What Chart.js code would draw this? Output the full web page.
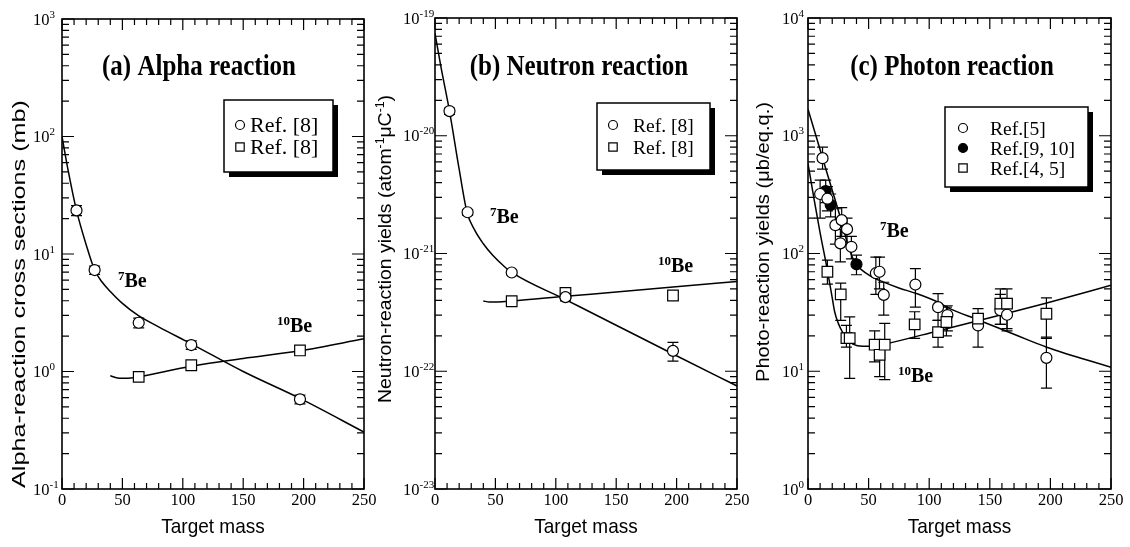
<!DOCTYPE html>
<html>
<head>
<meta charset="utf-8">
<script src="https://cdn.jsdelivr.net/npm/chart.js@4.4.1/dist/chart.umd.min.js"></script>
<style>
  html, body { margin: 0; padding: 0; background: #fff; }
  #wrap { position: relative; width: 1130px; height: 547px; overflow: hidden; }
  #wrap canvas { position: absolute; left: 0; top: 0; }
</style>
</head>
<body>
<div id="wrap">
  <canvas id="alphaChart" width="1130" height="547"></canvas>
  <canvas id="neutronChart" width="1130" height="547"></canvas>
  <canvas id="photonChart" width="1130" height="547"></canvas>
</div>
<script>
// ---- shared x axis ----
const massTicks = [0, 50, 100, 150, 200, 250];

// ---- (a) alpha reaction ----
const alphaDecades = [-1, 0, 1, 2, 3];
const alphaBe7Mass = [12, 27, 63.5, 107, 197];
const alphaBe7Val = [23.5, 7.3, 2.6, 1.68, 0.58];
const alphaBe7Err = [2.3, 0.6, 0.25, 0.14, 0.05];
const alphaBe10Mass = [63.5, 107, 197];
const alphaBe10Val = [0.9, 1.13, 1.51];
const alphaFit7Mass = [0, 5, 12, 20, 27, 33, 40, 50, 63, 80, 107, 150, 197, 250];
const alphaFit7Val = [100, 52, 23.5, 12, 7.3, 5.8, 4.8, 3.8, 3.0, 2.4, 1.72, 1.0, 0.59, 0.305];
const alphaFit10Mass = [40, 45, 50, 57, 63.5, 107, 150, 197, 250];
const alphaFit10Val = [0.92, 0.885, 0.875, 0.88, 0.9, 1.11, 1.29, 1.5, 1.9];

// ---- (b) neutron reaction ----
const neutronDecades = [-23, -22, -21, -20, -19];
const neutronBe7Mass = [12, 27, 63.5, 108, 197];
const neutronBe7Val = [1.62e-20, 2.24e-21, 6.9e-22, 4.26e-22, 1.49e-22];
const neutronBe7Err = [0.1e-20, 0.12e-21, 0.3e-22, 0.3e-22, 0.27e-22];
const neutronBe10Mass = [63.5, 108, 197];
const neutronBe10Val = [3.93e-22, 4.62e-22, 4.4e-22];
const neutronBe10Err = [0.1e-22, 0.25e-22, 0.3e-22];
const neutronFit7Mass = [0, 5, 12, 20, 26.5, 33, 40, 48, 56.5, 63.5, 108, 150, 197, 250];
const neutronFit7Val = [7.4e-20, 3.8e-20, 1.62e-20, 5.2e-21, 2.24e-21, 1.57e-21, 1.21e-21, 9.6e-22, 7.9e-22, 6.9e-22, 4.06e-22, 2.46e-22, 1.4e-22, 7.5e-23];
const neutronFit10Mass = [40, 45, 52, 63.5, 108, 150, 197, 250];
const neutronFit10Val = [3.95e-22, 3.88e-22, 3.88e-22, 3.95e-22, 4.33e-22, 4.71e-22, 5.19e-22, 5.78e-22];

// ---- (c) photon reaction ----
const photonDecades = [0, 1, 2, 3, 4];
const photonRef5Mass = [10, 12, 16, 22.6, 26.7, 27.8, 32.2, 35.8, 56, 59, 62.5, 88.6, 107.3, 115, 140.3, 158.7, 164.2, 196.7];
const photonRef5Val = [320, 645, 292, 174, 122, 192, 161, 114, 68, 70, 44.5, 54.5, 35, 30, 24.5, 33, 30.2, 13];
const photonRef5Lo = [200, 520, 230, 120, 85, 140, 120, 90, 45, 50, 30, 35, 27, 22, 16, 25, 22, 7.2];
const photonRef5Hi = [420, 800, 370, 240, 160, 245, 200, 140, 93, 93, 57, 74.5, 45.7, 36, 30, 45, 40, 19.5];
const photonRef910Mass = [14.6, 18.7, 40];
const photonRef910Val = [339, 259, 81];
const photonRef910Lo = [270, 205, 66];
const photonRef910Hi = [420, 320, 97];
const photonRef45Mass = [16, 27, 31.7, 34.4, 55, 59.1, 63.3, 88, 107.3, 114.2, 140.3, 158.7, 164.2, 196.7];
const photonRef45Val = [70, 45, 19.1, 19.1, 16.8, 13.8, 16.8, 25, 21.5, 26.2, 28, 37.5, 37.5, 30.8];
const photonRef45Lo = [55, 27, 16, 8.7, 12, 9, 8.5, 19, 16, 20, 24, 25, 23, 19];
const photonRef45Hi = [88, 56, 24.5, 29, 22, 17, 25.5, 32, 27, 35, 34, 50, 50, 42];
const photonFit7Mass = [0, 5, 10, 15, 20, 27, 33, 38.5, 44, 51, 62, 75, 89.5, 107, 117, 140, 172, 197, 250];
const photonFit7Val = [1680, 1130, 760, 510, 345, 198, 118, 84, 73, 65, 57.4, 51, 45.7, 38.7, 34, 27.4, 20.2, 16, 10.8];
const photonFit10Mass = [0, 5, 10, 16, 20, 22, 25, 29, 33, 37, 45, 55, 63, 107, 150, 197, 250];
const photonFit10Val = [580, 290, 150, 72, 42, 32, 25.5, 21, 18.3, 17, 16.3, 16.5, 17, 22, 28.5, 38, 53.7];

const SERIF = '"Liberation Serif", "Times New Roman", serif';
const SANS = '"Liberation Sans", Arial, sans-serif';

// draw a row of text runs, some of them superscript
function drawRuns(ctx, runs, x, y, o) {
  const family = o.family || SERIF;
  const weight = o.weight || "normal";
  const supSize = o.supSize || o.size * 0.65;
  const supRaise = o.supRaise != null ? o.supRaise : o.size * 0.4;
  const fontFor = (r) => weight + " " + (r.sup ? supSize : o.size) + "px " + family;
  ctx.save();
  const widths = runs.map((r) => {
    ctx.font = fontFor(r);
    return ctx.measureText(r.t).width;
  });
  const total = widths.reduce((s, w) => s + w, 0);
  ctx.translate(x, y);
  if (o.rotate) ctx.rotate(o.rotate);
  const sx = o.fit ? o.fit / total : o.sx || 1;
  ctx.scale(sx, o.sy || 1);
  let cx = o.align === "center" ? -total / 2 : o.align === "right" ? -total : 0;
  ctx.fillStyle = "#000";
  ctx.textAlign = "left";
  ctx.textBaseline = "alphabetic";
  runs.forEach((r, i) => {
    ctx.font = fontFor(r);
    ctx.fillText(r.t, cx, r.sup ? -supRaise : 0);
    cx += widths[i];
  });
  ctx.restore();
}

function drawMarker(ctx, kind, x, y, size) {
  ctx.beginPath();
  if (kind === "square") {
    ctx.rect(x - size, y - size, size * 2, size * 2);
  } else {
    ctx.arc(x, y, size, 0, Math.PI * 2);
  }
  ctx.fillStyle = kind === "disc" ? "#000" : "#fff";
  ctx.fill();
  ctx.stroke();
}

// vertical error bars with caps, drawn under the markers
const errorBarPlugin = {
  id: "errorBars",
  beforeDatasetsDraw(chart) {
    const { ctx, scales } = chart;
    ctx.save();
    ctx.strokeStyle = "#000";
    ctx.lineWidth = 1.2;
    chart.data.datasets.forEach((ds, i) => {
      if (!ds.errLo) return;
      const meta = chart.getDatasetMeta(i);
      meta.data.forEach((pt, j) => {
        const yLo = scales.y.getPixelForValue(ds.errLo[j]);
        const yHi = scales.y.getPixelForValue(ds.errHi[j]);
        ctx.beginPath();
        ctx.moveTo(pt.x, yLo);
        ctx.lineTo(pt.x, yHi);
        ctx.moveTo(pt.x - 5.5, yLo);
        ctx.lineTo(pt.x + 5.5, yLo);
        ctx.moveTo(pt.x - 5.5, yHi);
        ctx.lineTo(pt.x + 5.5, yHi);
        ctx.stroke();
      });
    });
    ctx.restore();
  },
};

// box, inward ticks, tick labels, titles, notes and legend
const framePlugin = {
  id: "frame",
  afterDraw(chart, args, opts) {
    const { ctx, chartArea: a, scales } = chart;
    const sx = scales.x;
    const sy = scales.y;
    ctx.save();
    ctx.strokeStyle = "#000";
    ctx.lineWidth = 1.2;
    ctx.beginPath();
    for (let v = sx.min; v <= sx.max; v += 10) {
      const px = sx.getPixelForValue(v);
      const len = massTicks.includes(v) ? 11 : 6;
      ctx.moveTo(px, a.bottom);
      ctx.lineTo(px, a.bottom - len);
      ctx.moveTo(px, a.top);
      ctx.lineTo(px, a.top + len);
    }
    opts.decades.forEach((e, i) => {
      for (let m = 1; m <= 9; m++) {
        if (m > 1 && i === opts.decades.length - 1) break;
        const py = sy.getPixelForValue(m * Math.pow(10, e));
        const len = m === 1 ? 12 : 7;
        ctx.moveTo(a.left, py);
        ctx.lineTo(a.left + len, py);
        ctx.moveTo(a.right, py);
        ctx.lineTo(a.right - len, py);
      }
    });
    ctx.stroke();
    ctx.lineWidth = 1.6;
    ctx.strokeRect(a.left, a.top, a.right - a.left, a.bottom - a.top);

    // x tick labels
    massTicks.forEach((v) => {
      drawRuns(ctx, [{ t: String(v) }], sx.getPixelForValue(v), a.bottom + 16, { size: 16.5, align: "center" });
    });
    // y tick labels 10^n
    opts.decades.forEach((e) => {
      const py = sy.getPixelForValue(Math.pow(10, e));
      drawRuns(ctx, [{ t: "10" }, { t: String(e), sup: true }], opts.yLabelX, py + 5.5, {
        size: 16.5, supSize: 11, supRaise: 7,
      });
    });
    // axis titles
    drawRuns(ctx, [{ t: "Target mass" }], (a.left + a.right) / 2, 533, { size: 19, family: SANS, align: "center", sy: 1.1 });
    const yt = opts.yTitle;
    drawRuns(ctx, yt.runs, yt.x, yt.cy, {
      size: 19, family: SANS, align: "center", rotate: -Math.PI / 2, fit: yt.len, supSize: 12, supRaise: 7,
    });
    // panel title
    drawRuns(ctx, [{ t: opts.title.text }], opts.title.x, opts.title.y, {
      size: 25, weight: "bold", align: "center", sy: 1.15,
    });
    // isotope notes
    opts.notes.forEach((n) => {
      drawRuns(ctx, n.runs, n.x, n.y, { size: 20, weight: "bold", supSize: 13, supRaise: 7 });
    });
    // legend with drop shadow
    const lg = opts.legend;
    ctx.fillStyle = "#000";
    ctx.fillRect(lg.x + 5, lg.y + 5, lg.w, lg.h);
    ctx.fillStyle = "#fff";
    ctx.fillRect(lg.x, lg.y, lg.w, lg.h);
    ctx.lineWidth = 1.5;
    ctx.strokeRect(lg.x, lg.y, lg.w, lg.h);
    ctx.lineWidth = 1.2;
    lg.entries.forEach((en, i) => {
      drawMarker(ctx, en[0], lg.markerX, lg.rows[i], en[0] === "square" ? 4.2 : 4.5);
      drawRuns(ctx, [{ t: en[1] }], lg.textX, lg.rows[i] + 7, { size: lg.size });
    });
    ctx.restore();
  },
};

const pts = (xs, ys) => xs.map((x, i) => ({ x, y: ys[i] }));
const minus = (vs, es) => vs.map((v, i) => v - es[i]);
const plus = (vs, es) => vs.map((v, i) => v + es[i]);

function markerSet(xs, ys, kind, lo, hi) {
  return {
    data: pts(xs, ys),
    showLine: false,
    pointStyle: kind === "square" ? "rect" : "circle",
    pointRadius: kind === "square" ? 7.5 : 5.5,
    pointBackgroundColor: kind === "disc" ? "#000" : "#fff",
    pointBorderColor: "#000",
    pointBorderWidth: 1.2,
    errLo: lo,
    errHi: hi,
    order: 1,
  };
}

function fitSet(xs, ys) {
  return {
    data: pts(xs, ys),
    showLine: true,
    pointRadius: 0,
    borderColor: "#000",
    borderWidth: 1.5,
    cubicInterpolationMode: "monotone",
    fill: false,
    order: 2,
  };
}

function makeChart(id, area, yMin, yMax, datasets, frame) {
  return new Chart(document.getElementById(id), {
    type: "scatter",
    data: { datasets },
    options: {
      responsive: false,
      animation: false,
      devicePixelRatio: 1,
      events: [],
      layout: {
        padding: { left: area[0], top: area[1], right: 1130 - area[2], bottom: 547 - area[3] },
      },
      plugins: { legend: { display: false }, tooltip: { enabled: false }, frame },
      scales: {
        x: { type: "linear", min: 0, max: 250, display: false },
        y: { type: "logarithmic", min: yMin, max: yMax, display: false },
      },
    },
    plugins: [errorBarPlugin, framePlugin],
  });
}

makeChart("alphaChart", [62, 19, 364, 489], 1e-1, 1e3, [
  fitSet(alphaFit7Mass, alphaFit7Val),
  fitSet(alphaFit10Mass, alphaFit10Val),
  markerSet(alphaBe7Mass, alphaBe7Val, "circle", minus(alphaBe7Val, alphaBe7Err), plus(alphaBe7Val, alphaBe7Err)),
  markerSet(alphaBe10Mass, alphaBe10Val, "square"),
], {
  decades: alphaDecades,
  yLabelX: 33,
  title: { text: "(a) Alpha reaction", x: 199, y: 75 },
  yTitle: { runs: [{ t: "Alpha-reaction cross sections (mb)" }], x: 25, cy: 294, len: 388 },
  notes: [
    { runs: [{ t: "7", sup: true }, { t: "Be" }], x: 118, y: 287 },
    { runs: [{ t: "10", sup: true }, { t: "Be" }], x: 277, y: 332 },
  ],
  legend: {
    x: 224, y: 100, w: 109, h: 72, markerX: 240, textX: 250, rows: [125, 147], size: 22,
    entries: [["circle", "Ref. [8]"], ["square", "Ref. [8]"]],
  },
});

makeChart("neutronChart", [435, 18, 737, 489], 1e-23, 1e-19, [
  fitSet(neutronFit7Mass, neutronFit7Val),
  fitSet(neutronFit10Mass, neutronFit10Val),
  markerSet(neutronBe7Mass, neutronBe7Val, "circle", minus(neutronBe7Val, neutronBe7Err), plus(neutronBe7Val, neutronBe7Err)),
  markerSet(neutronBe10Mass, neutronBe10Val, "square", minus(neutronBe10Val, neutronBe10Err), plus(neutronBe10Val, neutronBe10Err)),
], {
  decades: neutronDecades,
  yLabelX: 403,
  title: { text: "(b) Neutron reaction", x: 579, y: 75 },
  yTitle: {
    runs: [{ t: "Neutron-reaction yields (atom" }, { t: "-1", sup: true }, { t: "\u03bcC" }, { t: "-1", sup: true }, { t: ")" }],
    x: 391, cy: 249, len: 308,
  },
  notes: [
    { runs: [{ t: "7", sup: true }, { t: "Be" }], x: 490, y: 223 },
    { runs: [{ t: "10", sup: true }, { t: "Be" }], x: 658, y: 272 },
  ],
  legend: {
    x: 597, y: 103, w: 113, h: 67, markerX: 613, textX: 633, rows: [125, 147], size: 19.5,
    entries: [["circle", "Ref. [8]"], ["square", "Ref. [8]"]],
  },
});

makeChart("photonChart", [808, 18, 1111, 489], 1e0, 1e4, [
  fitSet(photonFit7Mass, photonFit7Val),
  fitSet(photonFit10Mass, photonFit10Val),
  markerSet(photonRef45Mass, photonRef45Val, "square", photonRef45Lo, photonRef45Hi),
  markerSet(photonRef5Mass, photonRef5Val, "circle", photonRef5Lo, photonRef5Hi),
  markerSet(photonRef910Mass, photonRef910Val, "disc", photonRef910Lo, photonRef910Hi),
], {
  decades: photonDecades,
  yLabelX: 782,
  title: { text: "(c) Photon reaction", x: 952, y: 75 },
  yTitle: { runs: [{ t: "Photo-reaction yields (\u03bcb/eq.q.)" }], x: 769, cy: 242, len: 280 },
  notes: [
    { runs: [{ t: "7", sup: true }, { t: "Be" }], x: 880, y: 237 },
    { runs: [{ t: "10", sup: true }, { t: "Be" }], x: 898, y: 382 },
  ],
  legend: {
    x: 945, y: 107, w: 143, h: 80, markerX: 963, textX: 990, rows: [128, 148, 168], size: 19.5,
    entries: [["circle", "Ref.[5]"], ["disc", "Ref.[9, 10]"], ["square", "Ref.[4, 5]"]],
  },
});
</script>
</body>
</html>
